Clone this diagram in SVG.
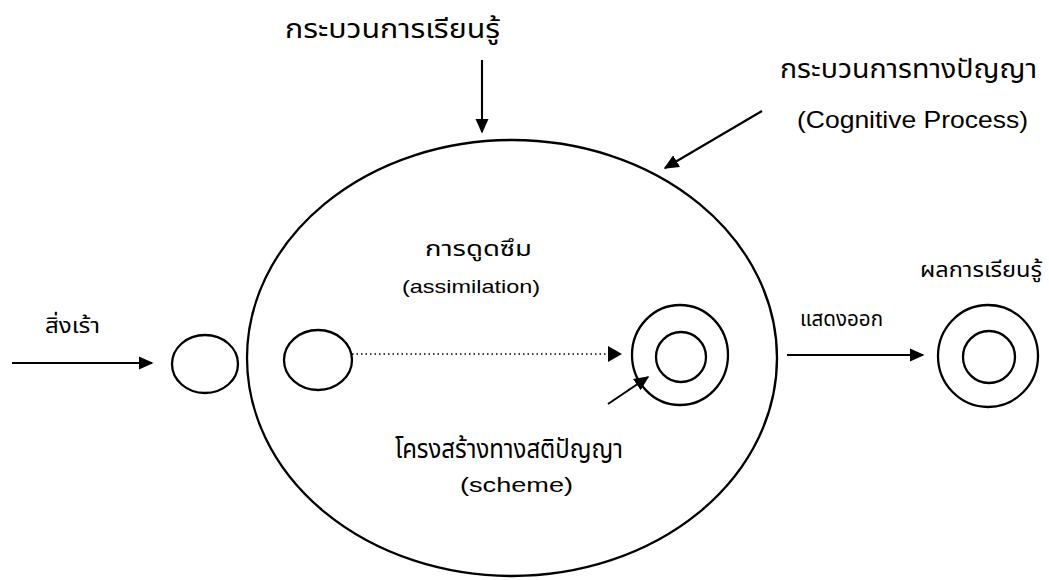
<svg xmlns="http://www.w3.org/2000/svg" width="1049" height="580" viewBox="0 0 1049 580">
<style>
.shape{fill:none;stroke:#000;stroke-width:2.3}
.ln{fill:none;stroke:#000;stroke-width:2.1}
.dot{fill:none;stroke:#000;stroke-width:1.3;stroke-dasharray:1.5 3}
.th{font-family:"Noto Sans Thai","Noto Sans","DejaVu Sans",sans-serif;fill:#000}
.en{font-family:"Liberation Sans",Arial,sans-serif;fill:#000}
</style>
<defs>
<marker id="ahb" viewBox="0 0 10 10" refX="9" refY="5" markerWidth="15" markerHeight="15" markerUnits="userSpaceOnUse" orient="auto">
<path d="M0,0.5 L10,5 L0,9.5 z" fill="#000"/>
</marker>
</defs>
<rect width="1049" height="580" fill="#fff"/>
<g id="process">
<ellipse class="shape" cx="512" cy="358" rx="265" ry="218"/>
</g>
<g id="stimulus">
<ellipse class="shape" cx="205" cy="364" rx="33" ry="29"/>
</g>
<g id="assimilated">
<ellipse class="shape" cx="318" cy="360" rx="34" ry="30"/>
</g>
<g id="scheme">
<ellipse class="shape" cx="680" cy="355" rx="48" ry="50"/>
<circle class="shape" cx="681" cy="357" r="25"/>
</g>
<g id="result">
<ellipse class="shape" cx="988" cy="356" rx="50" ry="51"/>
<circle class="shape" cx="989" cy="357" r="26"/>
</g>
<g id="connectors">
<line class="ln" x1="12" y1="363" x2="152" y2="363" marker-end="url(#ahb)"/>
<line class="dot" x1="352" y1="354" x2="608" y2="354"/>
<path d="M608,346 L622,354 L608,362 z" fill="#000"/>
<line class="ln" x1="608" y1="404" x2="648" y2="377" marker-end="url(#ahb)"/>
<line class="ln" x1="787" y1="355" x2="923" y2="355" marker-end="url(#ahb)"/>
<line class="ln" x1="482" y1="60" x2="482" y2="132" marker-end="url(#ahb)"/>
<line class="ln" x1="762" y1="111" x2="665" y2="168" marker-end="url(#ahb)"/>
</g>
<g id="labels">
<text class="th" x="285" y="38" font-size="27" textLength="215" lengthAdjust="spacingAndGlyphs">กระบวนการเรียนรู้</text>
<text class="th" x="780" y="78" font-size="26" textLength="257" lengthAdjust="spacingAndGlyphs">กระบวนการทางปัญญา</text>
<text class="en" x="797" y="128" font-size="24" textLength="231" lengthAdjust="spacingAndGlyphs">(Cognitive Process)</text>
<text class="th" x="425" y="256" font-size="21" textLength="107" lengthAdjust="spacingAndGlyphs">การดูดซึม</text>
<text class="en" x="402" y="293" font-size="19" textLength="138" lengthAdjust="spacingAndGlyphs">(assimilation)</text>
<text class="th" x="45" y="333" font-size="22" textLength="55" lengthAdjust="spacingAndGlyphs">สิ่งเร้า</text>
<text class="th" x="800" y="326" font-size="21" textLength="83" lengthAdjust="spacingAndGlyphs">แสดงออก</text>
<text class="th" x="920" y="277" font-size="21" textLength="122" lengthAdjust="spacingAndGlyphs">ผลการเรียนรู้</text>
<text class="th" x="395" y="458" font-size="27" textLength="228" lengthAdjust="spacingAndGlyphs">โครงสร้างทางสติปัญญา</text>
<text class="en" x="460" y="492" font-size="21" textLength="113" lengthAdjust="spacingAndGlyphs">(scheme)</text>
</g>
</svg>
